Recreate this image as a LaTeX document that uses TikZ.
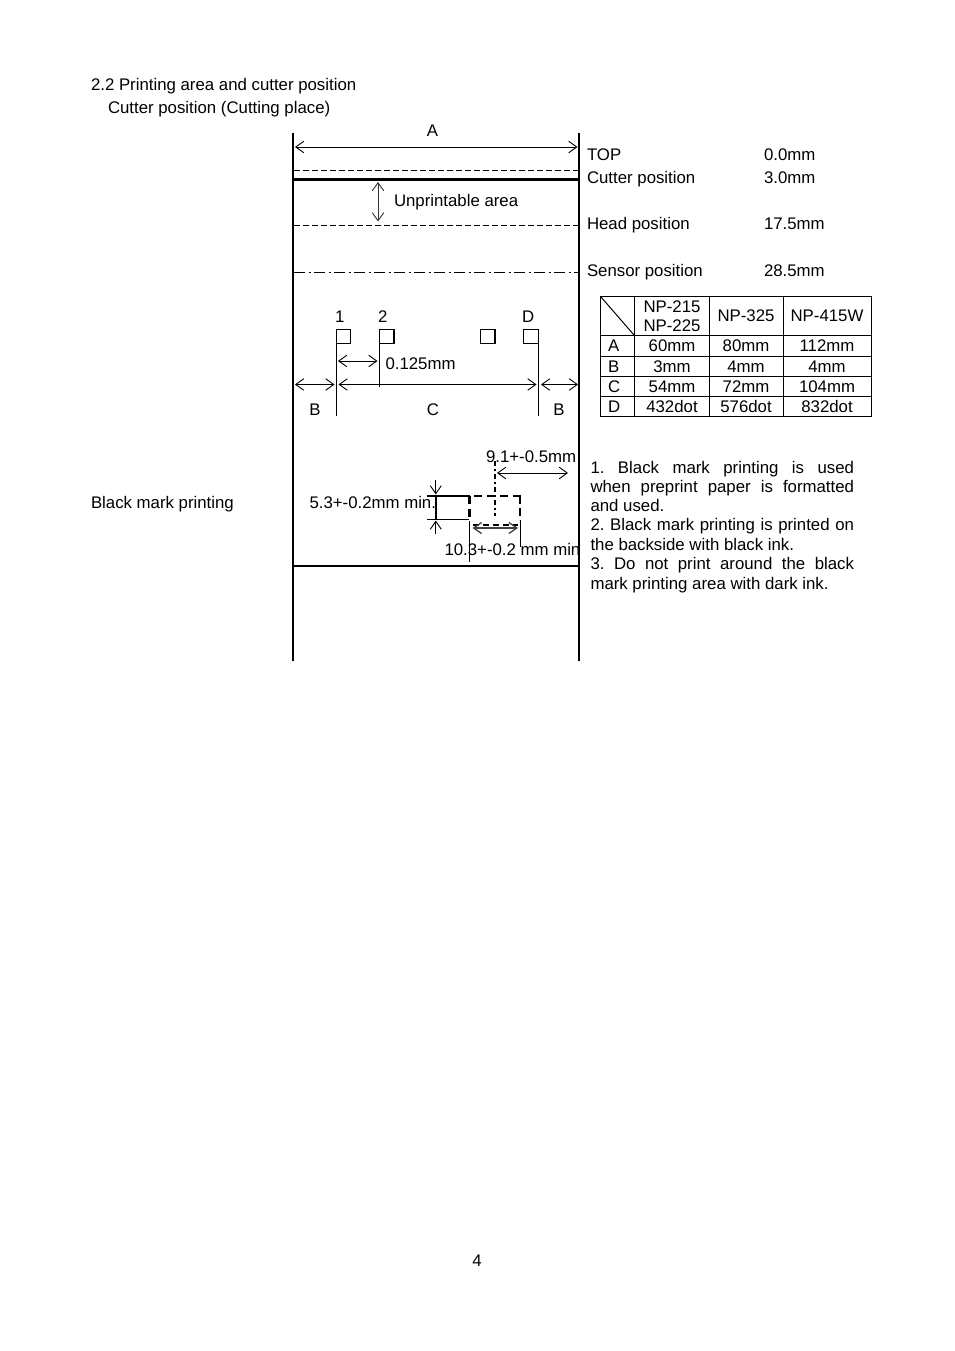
\documentclass[tikz,border=0pt]{standalone}
\usepackage{fontspec}
\setmainfont{Liberation Sans}
\usetikzlibrary{arrows.meta}
\frenchspacing
\tikzset{
  lbl/.style={anchor=base west,inner sep=0pt,outer sep=0pt,font=\fontsize{16.8}{19}\selectfont},
  ctr/.style={anchor=base,inner sep=0pt,outer sep=0pt,font=\fontsize{16.8}{19}\selectfont},
  dim/.style={line width=.9pt,{Straight Barb[length=8pt,width=11.5pt,line width=.9pt]}-{Straight Barb[length=8pt,width=11.5pt,line width=.9pt]}},
  thin line/.style={line width=.85pt},
  frame/.style={line width=2pt},
  grid line/.style={line width=1pt},
}
\newcommand{\jl}[1]{\makebox[263.5pt][s]{#1}}
\begin{document}
\begin{tikzpicture}[x=1pt,y=-1pt]
\useasboundingbox (0,0) rectangle (954,1351);
\fill[white] (0,0) rectangle (954,1351);
% heading
\node[lbl] (h1) at (91,90.5) {2.2 Printing area and cutter position};
\node[lbl] (h2) at (108,113.5) {Cutter position (Cutting place)};
\node[lbl] (bmp) at (91,508) {Black mark printing};
\node[ctr] (page) at (477,1266) {4};
% texts in paper
\node[ctr] (tA) at (432.5,136.5) {A};
\node[lbl] (tU) at (394,206) {Unprintable area};
\node[lbl] (t1) at (335,322) {1};
\node[lbl] (t2) at (378,322) {2};
\node[lbl] (tD) at (522,322) {D};
\node[lbl] (t125) at (385.5,369) {0.125mm};
\node[ctr] (tB1) at (315,415) {B};
\node[ctr] (tC) at (433,415) {C};
\node[ctr] (tB2) at (559,415) {B};
\node[lbl] (t91) at (486,462) {9.1+-0.5mm};
\node[lbl] (t53) at (309.5,508) {5.3+-0.2mm min.};
\node[lbl] (t103) at (444.5,555) {10.3+-0.2 mm min};
% position list
\node[lbl] (p1) at (587,160.5) {TOP};
\node[lbl] (v1) at (764,160.5) {0.0mm};
\node[lbl] (p2) at (587,183.5) {Cutter position};
\node[lbl] (v2) at (764,183.5) {3.0mm};
\node[lbl] (p3) at (587,229.5) {Head position};
\node[lbl] (v3) at (764,229.5) {17.5mm};
\node[lbl] (p4) at (587,276) {Sensor position};
\node[lbl] (v4) at (764,276) {28.5mm};
% frame
\draw[frame] (293,133) -- (293,661);
\draw[frame] (579,133) -- (579,661);
\draw[line width=3pt] (293,179.3) -- (579,179.3);
\draw[frame] (293,566) -- (579,566);
\draw[thin line,dash pattern=on 5.5pt off 3.5pt] (294,170.3) -- (578,170.3);
\draw[thin line,dash pattern=on 5.5pt off 3.5pt] (294,225.5) -- (578,225.5);
\draw[thin line,dash pattern=on 11pt off 3.5pt on 2pt off 3.5pt] (294,272.3) -- (578,272.3);
% dims
\draw[dim] (295,147) -- (577.5,147);
\draw[dim,black!80] (378,182) -- (378,221.5);
\draw[dim] (338,361) -- (377.5,361);
\draw[dim] (338.5,384.5) -- (536.5,384.5);
\draw[dim] (295,384.5) -- (334.5,384.5);
\draw[dim] (541,384.5) -- (578,384.5);
% dots
\draw[grid line] (336.7,329.5) rectangle (350,343.3);
\draw[grid line] (379.5,329.5) rectangle (393,343.3);
\draw[line width=2pt] (393.5,329) -- (393.5,344);
\draw[grid line] (480.8,329.5) rectangle (494.5,343.3);
\draw[line width=2pt] (495,329) -- (495,344);
\draw[grid line] (523.5,329.5) rectangle (538.3,343.3);
\draw[grid line] (336.7,343) -- (336.7,416);
\draw[grid line] (379.5,343) -- (379.5,387);
\draw[grid line] (538.3,343) -- (538.3,416);
% black mark
\draw[line width=2pt] (427,495.7) -- (470,495.7);
\draw[line width=2pt,dash pattern=on 8pt off 5pt] (474,495.7) -- (521,495.7);
\draw[line width=2pt] (435.8,496) -- (435.8,519.5);
\draw[thin line] (427,519.5) -- (469,519.5);
\draw[line width=2.5pt,dash pattern=on 8pt off 5pt] (469.5,496) -- (469.5,521);
\draw[line width=2pt,dash pattern=on 8pt off 4pt] (520,496) -- (520,520);
\draw[thin line] (469.5,521) -- (469.5,562);
\draw[thin line] (520,520) -- (520,547);
\draw[line width=1.8pt,dash pattern=on 5pt off 3pt on 2pt off 3pt] (495,461) -- (495,516);
\draw[line width=1.5pt,dash pattern=on 6pt off 4pt] (473,525) -- (518,525);
\draw[line width=1.5pt,black!75,{Straight Barb[length=8pt,width=11pt,line width=1.3pt]}-{Straight Barb[length=8pt,width=11pt,line width=1.3pt]}] (472.5,528) -- (518,528);
\draw[dim] (497,473) -- (568,473);
\draw[thin line,-{Straight Barb[length=8pt,width=11pt,line width=.9pt]}] (435.8,480) -- (435.8,494.5);
\draw[thin line,-{Straight Barb[length=8pt,width=11pt,line width=.9pt]}] (435.8,534) -- (435.8,520.5);
% table
\foreach \yy in {296.5,335.5,356,376.5,396.5,416.5} \draw[grid line] (600,\yy) -- (872,\yy);
\foreach \xx in {600.5,634.5,709,783,871.5} \draw[grid line] (\xx,296) -- (\xx,417);
\draw[grid line] (601,297) -- (634,335);
\node[ctr] (c11) at (672,312) {NP-215};
\node[ctr] (c12) at (672,331) {NP-225};
\node[ctr] (c13) at (746,321) {NP-325};
\node[ctr] (c14) at (827,321) {NP-415W};
\node[lbl] (ra) at (608,351) {A};
\node[ctr] (a1) at (672,351) {60mm};
\node[ctr] (a2) at (746,351) {80mm};
\node[ctr] (a3) at (827,351) {112mm};
\node[lbl] (rb) at (608,372) {B};
\node[ctr] (b1) at (672,372) {3mm};
\node[ctr] (b2) at (746,372) {4mm};
\node[ctr] (b3) at (827,372) {4mm};
\node[lbl] (rc) at (608,392) {C};
\node[ctr] (d1) at (672,392) {54mm};
\node[ctr] (d2) at (746,392) {72mm};
\node[ctr] (d3) at (827,392) {104mm};
\node[lbl] (rd) at (608,412) {D};
\node[ctr] (e1) at (672,412) {432dot};
\node[ctr] (e2) at (746,412) {576dot};
\node[ctr] (e3) at (827,412) {832dot};
% notes
\node[lbl] (n1) at (590.5,473) {\jl{1. Black mark printing is used}};
\node[lbl] (n2) at (590.5,492) {\jl{when preprint paper is formatted}};
\node[lbl] (n3) at (590.5,511) {and used.};
\node[lbl] (n4) at (590.5,530.5) {\jl{2. Black mark printing is printed on}};
\node[lbl] (n5) at (590.5,550) {the backside with black ink.};
\node[lbl] (n6) at (590.5,569) {\jl{3. Do not print around the black}};
\node[lbl] (n7) at (590.5,589) {mark printing area with dark ink.};
\end{tikzpicture}
\end{document}
